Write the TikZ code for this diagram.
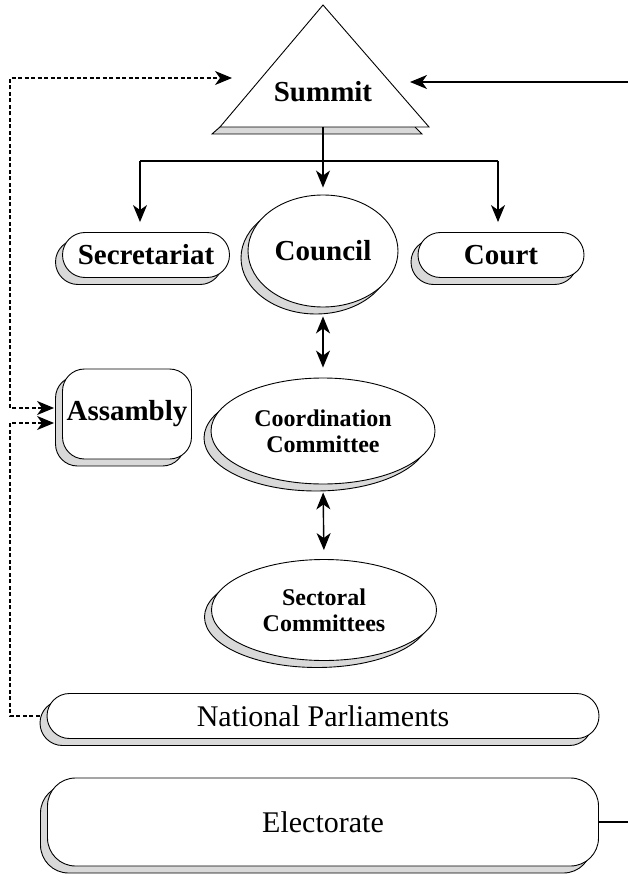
\documentclass[tikz,border=0pt]{standalone}
\usepackage{fontspec}
\setmainfont{Liberation Serif}
\usetikzlibrary{shapes.geometric,shapes.misc,shadows,arrows.meta}

\tikzset{
  box/.style={draw, fill=white, line width=0.9pt, inner sep=0pt,
    general shadow={fill=black!15, draw=black, line width=0.9pt,
      shadow xshift=-7pt, shadow yshift=-7pt}},
  pill/.style={box, rounded rectangle, minimum height=45pt},
  oval/.style={box, ellipse},
  tip/.tip={Stealth[length=17pt,width=14pt,inset=5pt]},
  arr/.style={line width=1.4pt, -tip},
  twoarr/.style={line width=1.4pt, tip-tip},
  dots/.style={line width=1.1pt, dash pattern=on 4pt off 2.5pt},
  big/.style={font=\fontsize{29}{32}\selectfont\bfseries},
  mid/.style={font=\fontsize{24}{26}\selectfont\bfseries, align=center},
  plain/.style={font=\fontsize{30}{32}\selectfont},
}

\begin{document}
\begin{tikzpicture}[x=1pt,y=-1pt]
  \path[use as bounding box, clip] (0,0) rectangle (628,874);
  % summit triangle with its shadow strip
  \coordinate (apex) at (323,5);
  \coordinate (bl) at (220,127);
  \coordinate (br) at (429,127);
  \draw[fill=black!15, line width=0.9pt] (220,127) -- (212,134) -- (422,134) -- (415,127);
  \draw[fill=white, line width=0.9pt] (apex) -- (bl) -- (br) -- cycle;
  \node[big] (summit) at (323,92) {Summit};
  \coordinate (summit base) at (323,127);
  \coordinate (summit in) at (232,78);
  \coordinate (summit rt) at (410,82);
  \coordinate (fork w) at (140,161);
  \coordinate (fork e) at (498,161);
  \coordinate (rail) at (10,0);
  \coordinate (rail r) at (640,0);

  \node[pill, big, minimum width=167pt] (secretariat) at (146,255) {Secretariat};
  \node[oval, big, minimum width=150pt, minimum height=112pt] (council) at (323,251) {Council};
  \node[pill, big, minimum width=166pt] (court) at (501,255) {Court};
  \node[box, big, rounded corners=22pt, minimum width=129pt, minimum height=90pt] (assambly) at (127,414) {Assambly};
  \node[oval, mid, minimum width=224pt, minimum height=106pt] (coord) at (323,431) {Coordination\\Committee};
  \node[oval, mid, minimum width=225pt, minimum height=101pt] (sectoral) at (324,610) {Sectoral\\Committees};
  \node[pill, plain, minimum width=552pt] (parl) at (323,716) {National Parliaments};
  \node[box, plain, rounded corners=28pt, minimum width=551pt, minimum height=88pt] (electorate) at (323,822) {Electorate};

  \coordinate (a in1) at ([xshift=-8pt,yshift=6pt]assambly.west);
  \coordinate (a in2) at ([xshift=-8pt,yshift=-9pt]assambly.west);
  \coordinate (parl out) at ([xshift=-7pt]parl.west);

  \draw[arr, shorten >=7pt] (summit base) -- (council);
  \draw[line width=2pt] (fork w) -- (fork e);
  \draw[arr, shorten >=10pt] (fork w) -- (fork w |- secretariat.north);
  \draw[arr, shorten >=10pt] (fork e) -- (fork e |- court.north);
  \draw[twoarr, shorten <=9pt, shorten >=10pt] (council.south) -- (coord.north);
  \draw[twoarr, shorten <=8pt, shorten >=9pt] (coord.south) -- (sectoral.north);

  \draw[dots, tip-tip] (a in1) -- (rail |- a in1) -- (rail |- summit in) -- (summit in);
  \draw[dots, -tip] (parl out) -- (rail |- parl out) -- (rail |- a in2) -- (a in2);
  \draw[arr] (electorate.east) -- (rail r |- electorate.east) -- (rail r |- summit rt) -- (summit rt);
\end{tikzpicture}
\end{document}
